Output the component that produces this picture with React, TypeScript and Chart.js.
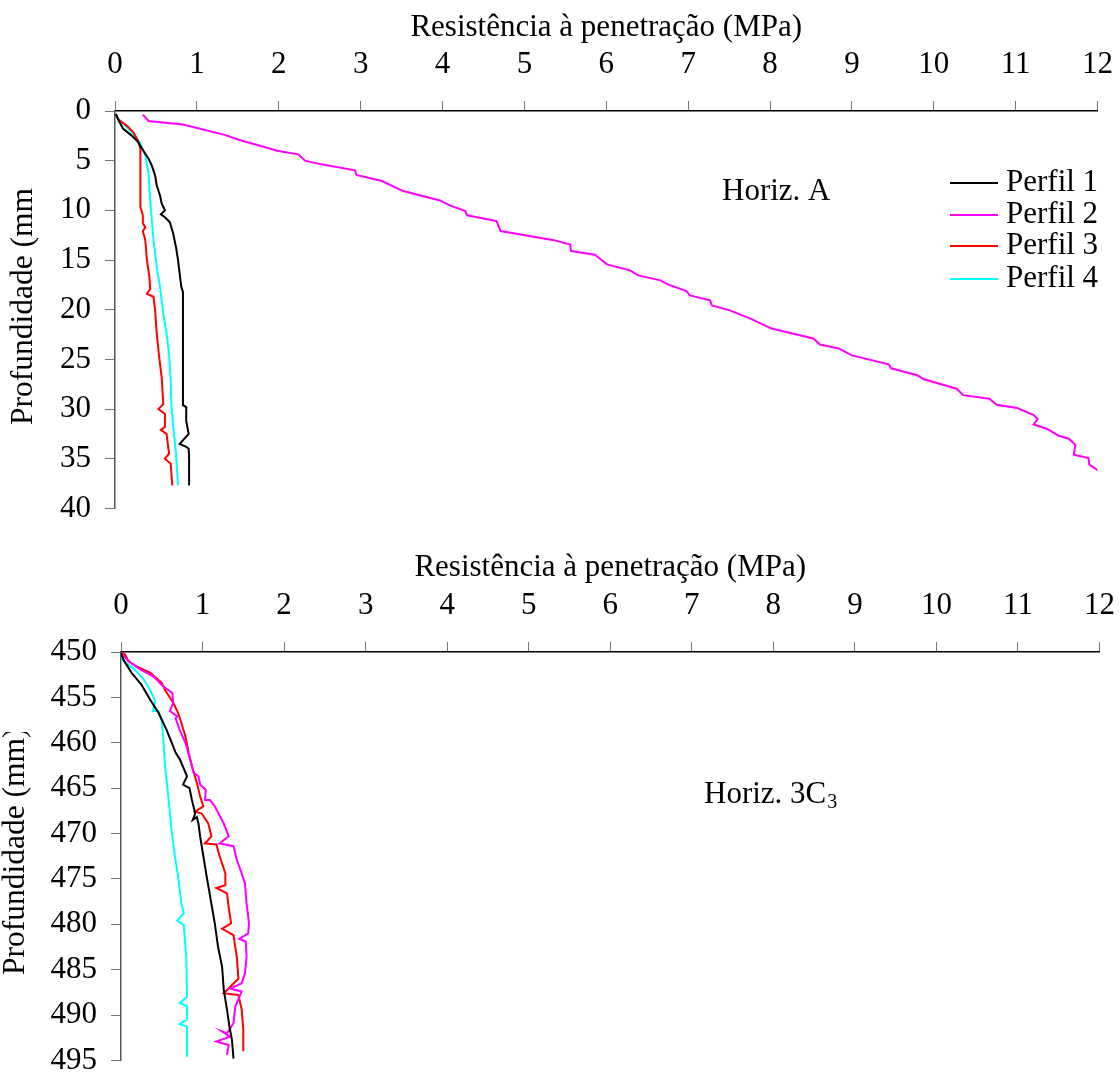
import React, { useEffect, useRef } from "react";
import { Chart, registerables } from "chart.js";

Chart.register(...registerables);

// ---------- DATA ----------
const xTickValues = [0, 1, 2, 3, 4, 5, 6, 7, 8, 9, 10, 11, 12];
const depthTicksA = [0, 5, 10, 15, 20, 25, 30, 35, 40];
const depthTicksC = [450, 455, 460, 465, 470, 475, 480, 485, 490, 495];
const seriesNames = ["Perfil 1", "Perfil 2", "Perfil 3", "Perfil 4"];
const seriesColors = ["#000000", "#FF00FF", "#FF0000", "#00FFFF"];
const xTitle = "Resistência à penetração (MPa)";
const yTitle = "Profundidade (mm)";

// Horizon A: [resistance MPa, depth mm]
const perfil1A: number[][] = [
  [0.01, 0.3], [0.04, 0.9], [0.1, 1.8], [0.2, 2.45], [0.28, 3.1], [0.33, 3.8], [0.41, 4.8],
  [0.45, 5.5], [0.49, 6.5], [0.51, 7.5], [0.55, 8.5], [0.57, 9.3], [0.61, 10.0], [0.56, 10.4],
  [0.61, 10.7], [0.67, 11.2], [0.71, 12.3], [0.745, 13.7], [0.77, 15.0], [0.79, 16.4],
  [0.81, 17.7], [0.83, 18.2], [0.83, 22.4], [0.83, 29.6], [0.87, 29.8], [0.87, 31.2],
  [0.9, 32.5], [0.79, 33.5], [0.87, 33.8], [0.9, 34.0], [0.905, 35.0], [0.905, 37.7],
];
const perfil2A: number[][] = [
  [0.34, 0.36], [0.41, 1.0], [0.83, 1.37], [1.34, 2.4], [1.55, 3.0], [1.73, 3.4], [1.98, 4.0],
  [2.24, 4.36], [2.32, 5.0], [2.52, 5.37], [2.93, 5.97], [2.95, 6.44], [3.26, 7.05], [3.52, 8.06],
  [3.97, 9.0], [4.09, 9.5], [4.28, 10.07], [4.3, 10.5], [4.66, 11.08], [4.71, 12.08], [5.36, 13.0],
  [5.56, 13.45], [5.57, 14.1], [5.86, 14.46], [6.01, 15.44], [6.29, 16.04], [6.39, 16.55],
  [6.66, 17.05], [6.76, 17.48], [6.98, 18.12], [7.02, 18.56], [7.27, 19.06], [7.29, 19.57],
  [7.51, 20.07], [7.76, 20.9], [8.02, 21.9], [8.53, 22.9], [8.61, 23.5], [8.84, 23.9], [9.0, 24.6],
  [9.45, 25.5], [9.48, 25.9], [9.8, 26.6], [9.88, 27.0], [10.28, 27.95], [10.36, 28.6],
  [10.68, 28.96], [10.77, 29.57], [11.02, 29.9], [11.22, 30.6], [11.27, 30.98], [11.22, 31.55],
  [11.38, 31.98], [11.52, 32.66], [11.65, 32.99], [11.73, 33.6], [11.71, 34.6], [11.89, 34.94],
  [11.9, 35.6], [12.02, 36.25],
];
const perfil3A: number[][] = [
  [0.01, 0.43], [0.05, 0.94], [0.14, 1.44], [0.22, 2.1], [0.28, 2.95], [0.31, 3.8], [0.31, 9.66],
  [0.34, 10.5], [0.34, 11.3], [0.37, 11.7], [0.34, 12.1], [0.37, 13.0], [0.39, 15.0], [0.42, 16.7],
  [0.43, 17.9], [0.39, 18.4], [0.47, 18.7], [0.49, 20.1], [0.51, 22.4], [0.54, 24.8], [0.57, 26.8],
  [0.59, 29.5], [0.53, 30.0], [0.61, 30.5], [0.61, 31.8], [0.56, 32.1], [0.63, 32.5], [0.66, 34.5],
  [0.61, 35.0], [0.68, 35.5], [0.7, 37.7],
];
const perfil4A: number[][] = [
  [0.01, 0.33], [0.04, 0.77], [0.12, 1.44], [0.22, 2.28], [0.31, 3.28], [0.37, 4.46], [0.41, 6.3],
  [0.43, 9.0], [0.45, 11.0], [0.47, 13.0], [0.51, 15.7], [0.55, 17.7], [0.59, 20.4], [0.63, 22.4],
  [0.66, 24.4], [0.68, 27.1], [0.69, 29.8], [0.72, 32.5], [0.745, 34.5], [0.77, 37.7],
];

// Horizon 3C3: [resistance MPa, depth mm]
const perfil1C: number[][] = [
  [0, 450.1], [0.03, 450.85], [0.13, 452.3], [0.25, 453.6], [0.36, 455.3], [0.46, 456.7],
  [0.56, 458.6], [0.64, 460.4], [0.67, 461.1], [0.72, 461.8], [0.81, 463.7], [0.76, 464.6],
  [0.84, 465.0], [0.87, 466.3], [0.91, 467.8], [0.88, 468.5], [0.93, 468.2], [0.95, 468.9],
  [0.97, 470.3], [1.01, 472.5], [1.05, 474.7], [1.1, 477.3], [1.15, 479.9], [1.19, 482.5],
  [1.24, 484.7], [1.26, 487.2], [1.3, 489.4], [1.33, 491.3], [1.36, 492.7], [1.38, 494.8],
];
const perfil2C: number[][] = [
  [0, 450.1], [0.09, 451.0], [0.23, 451.9], [0.4, 452.7], [0.52, 453.8], [0.63, 454.5],
  [0.64, 455.6], [0.6, 456.5], [0.69, 457.1], [0.67, 457.3], [0.72, 458.6], [0.79, 460.0],
  [0.85, 461.9], [0.89, 463.3], [0.95, 463.7], [0.97, 464.6], [1.04, 465.2], [1.03, 466.3],
  [1.09, 466.3], [1.15, 467.0], [1.26, 468.9], [1.32, 470.3], [1.21, 471.1], [1.38, 471.4],
  [1.42, 472.9], [1.48, 474.4], [1.52, 475.5], [1.54, 477.7], [1.57, 479.9], [1.56, 481.0],
  [1.45, 481.6], [1.53, 481.9], [1.54, 483.6], [1.52, 485.4], [1.48, 486.5], [1.34, 487.1],
  [1.48, 487.4], [1.4, 489.1], [1.38, 490.9], [1.3, 492.0], [1.24, 491.8], [1.34, 492.4],
  [1.17, 492.9], [1.32, 493.3], [1.3, 494.4],
];
const perfil3C: number[][] = [
  [0, 450.0], [0.05, 450.3], [0.09, 451.0], [0.19, 451.6], [0.36, 452.3], [0.5, 453.4],
  [0.54, 454.2], [0.64, 455.6], [0.7, 456.7], [0.74, 457.8], [0.79, 459.3], [0.83, 461.1],
  [0.87, 462.6], [0.93, 464.4], [0.97, 465.9], [1.01, 467.0], [0.91, 467.6], [0.99, 467.8],
  [1.07, 468.9], [1.11, 470.3], [1.03, 471.1], [1.17, 471.2], [1.21, 472.5], [1.28, 474.4],
  [1.28, 475.7], [1.17, 476.0], [1.3, 476.6], [1.32, 478.1], [1.35, 479.9], [1.24, 480.5],
  [1.38, 481.2], [1.42, 483.6], [1.44, 486.0], [1.26, 487.6], [1.44, 487.8], [1.48, 489.4],
  [1.5, 491.6], [1.5, 494.0],
];
const perfil4C: number[][] = [
  [0, 450.3], [0.03, 451.0], [0.15, 451.8], [0.27, 452.9], [0.36, 454.2], [0.42, 455.4],
  [0.39, 456.5], [0.46, 456.5], [0.5, 457.6], [0.52, 459.7], [0.54, 462.6], [0.58, 465.9],
  [0.62, 469.6], [0.66, 472.5], [0.7, 474.7], [0.74, 477.7], [0.77, 478.8], [0.69, 479.6],
  [0.77, 480.1], [0.8, 483.6], [0.81, 488.0], [0.72, 488.7], [0.81, 489.0], [0.81, 490.5],
  [0.72, 491.0], [0.81, 491.3], [0.81, 494.6],
];

// ---------- STYLE ----------
const FONT = '"Liberation Serif", "Times New Roman", serif';
const FS = 31;
const FS_YT = 31.5;
const X_TICK_PAD = 18;
const Y_TICK_PAD = 14;

type PanelProps = {
  top: number;
  height: number;
  width: number;
  series: number[][][];
  depthTicks: number[];
  plotLeft: number;
  plotTop: number;
  yTitleX: number;
  yTitleBottom: number;
  yTitleClipTop: number;
  drawExtra: (ctx: CanvasRenderingContext2D) => void;
};

function Panel(p: PanelProps) {
  const ref = useRef<HTMLCanvasElement | null>(null);
  useEffect(() => {
    const canvas = ref.current;
    if (!canvas) return;
    const datasets = p.series.map((s, i) => ({
      label: seriesNames[i],
      data: s.map(([x, y]) => ({ x, y })),
      borderColor: seriesColors[i],
      backgroundColor: seriesColors[i],
      borderWidth: 2,
      pointRadius: 0,
      showLine: true,
      tension: 0,
    }));
    const extraPlugin = {
      id: "extraText",
      afterDraw(chart: any) {
        const ctx: CanvasRenderingContext2D = chart.ctx;
        ctx.save();
        // rotated y-axis title (clipped like the original)
        ctx.beginPath();
        ctx.rect(0, p.yTitleClipTop, 70, p.height);
        ctx.clip();
        ctx.translate(p.yTitleX, p.yTitleBottom);
        ctx.rotate(-Math.PI / 2);
        ctx.fillStyle = "#000";
        ctx.font = `${FS_YT}px ${FONT}`;
        ctx.textAlign = "left";
        ctx.textBaseline = "middle";
        ctx.fillText(yTitle, 0, 0);
        ctx.restore();
        ctx.save();
        p.drawExtra(ctx);
        ctx.restore();
      },
    };
    const dMin = p.depthTicks[0];
    const dMax = p.depthTicks[p.depthTicks.length - 1];
    const chart = new Chart(canvas, {
      type: "scatter",
      data: { datasets },
      plugins: [extraPlugin],
      options: {
        animation: false,
        responsive: false,
        devicePixelRatio: 1,
        layout: { padding: 0 },
        plugins: {
          legend: { display: false },
          tooltip: { enabled: false },
        },
        scales: {
          x: {
            type: "linear",
            position: "top",
            min: xTickValues[0],
            max: xTickValues[xTickValues.length - 1],
            afterBuildTicks: (s: any) => {
              s.ticks = xTickValues.map((v) => ({ value: v }));
            },
            ticks: {
              color: "#000",
              font: { family: FONT, size: FS },
              padding: X_TICK_PAD,
              maxRotation: 0,
              autoSkip: false,
            },
            grid: {
              display: true,
              drawOnChartArea: false,
              drawTicks: true,
              tickLength: 10,
              color: "#777",
              tickColor: "#777",
            },
            border: { display: true, color: "#000", width: 1.5 },
            title: {
              display: true,
              text: xTitle,
              color: "#000",
              font: { family: FONT, size: FS },
              padding: { top: 9, bottom: 0 },
            },
            afterFit: (s: any) => {
              s.height = p.plotTop;
            },
          },
          y: {
            type: "linear",
            reverse: true,
            min: dMin,
            max: dMax,
            afterBuildTicks: (s: any) => {
              s.ticks = p.depthTicks.map((v) => ({ value: v }));
            },
            ticks: {
              color: "#000",
              font: { family: FONT, size: FS },
              padding: Y_TICK_PAD,
              autoSkip: false,
            },
            grid: {
              display: true,
              drawOnChartArea: false,
              drawTicks: true,
              tickLength: 10,
              color: "#777",
              tickColor: "#777",
            },
            border: { display: true, color: "#555", width: 1.5 },
            afterFit: (s: any) => {
              s.width = p.plotLeft;
            },
          },
        },
      },
    } as any);
    return () => chart.destroy();
  }, []);
  return (
    <canvas
      ref={ref}
      width={p.width}
      height={p.height}
      style={{ position: "absolute", left: 0, top: p.top, width: p.width, height: p.height }}
    />
  );
}

function drawLegendA(ctx: CanvasRenderingContext2D) {
  ctx.fillStyle = "#000";
  ctx.font = `${FS}px ${FONT}`;
  ctx.textAlign = "left";
  ctx.textBaseline = "alphabetic";
  ctx.fillText("Horiz. A", 722, 200);
  const ys = [183, 215, 246, 279];
  seriesNames.forEach((name, i) => {
    ctx.strokeStyle = seriesColors[i];
    ctx.lineWidth = 2;
    ctx.beginPath();
    ctx.moveTo(950, ys[i]);
    ctx.lineTo(998, ys[i]);
    ctx.stroke();
    ctx.fillStyle = "#000";
    ctx.textBaseline = "middle";
    ctx.fillText(name, 1006, ys[i]);
  });
}

function drawLabelC(ctx: CanvasRenderingContext2D) {
  // coordinates relative to the bottom canvas (top = 540)
  ctx.fillStyle = "#000";
  ctx.textAlign = "left";
  ctx.textBaseline = "alphabetic";
  ctx.font = `${FS}px ${FONT}`;
  const main = "Horiz. 3C";
  ctx.fillText(main, 704, 263);
  const w = ctx.measureText(main).width;
  ctx.font = `${Math.round(FS * 0.65)}px ${FONT}`;
  ctx.fillText("3", 704 + w + 1, 268);
}

export default function App() {
  return (
    <div
      style={{
        position: "absolute",
        left: 0,
        top: 0,
        width: 1119,
        height: 1074,
        background: "#fff",
        overflow: "hidden",
      }}
    >
      <Panel
        top={0}
        height={541}
        width={1131}
        series={[perfil1A, perfil2A, perfil3A, perfil4A]}
        depthTicks={depthTicksA}
        plotLeft={115}
        plotTop={111}
        yTitleX={24}
        yTitleBottom={425}
        yTitleClipTop={187}
        drawExtra={drawLegendA}
      />
      <Panel
        top={540}
        height={553}
        width={1133}
        series={[perfil1C, perfil2C, perfil3C, perfil4C]}
        depthTicks={depthTicksC}
        plotLeft={121}
        plotTop={112}
        yTitleX={16}
        yTitleBottom={435}
        yTitleClipTop={192}
        drawExtra={drawLabelC}
      />
    </div>
  );
}
